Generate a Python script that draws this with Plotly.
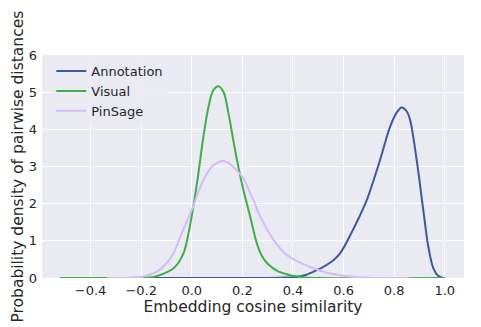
import plotly.graph_objects as go

# Annotation (blue)
ann_x = [-0.52, 0.2, 0.35, 0.415, 0.45, 0.494, 0.52, 0.56, 0.586, 0.63, 0.659, 0.692, 0.744, 0.784,
         0.81, 0.83, 0.85, 0.863, 0.889, 0.915, 0.935, 0.955, 0.975, 0.99, 1.0]
ann_y = [0, 0, 0.01, 0.03, 0.08, 0.21, 0.30, 0.48, 0.66, 1.2, 1.6, 2.1, 3.17, 4.07,
         4.45, 4.59, 4.48, 4.25, 3.17, 1.83, 0.84, 0.26, 0.05, 0.01, 0]

# Visual (green)
vis_x = [-0.52, -0.25, -0.2, -0.15, -0.106, -0.066, -0.033, -0.013, 0.006, 0.026, 0.046, 0.066,
         0.085, 0.105, 0.125, 0.145, 0.164, 0.184, 0.204, 0.229, 0.242, 0.255, 0.275, 0.302,
         0.341, 0.381, 0.42, 0.46, 0.5, 1.0]
vis_y = [0, 0, 0.005, 0.03, 0.13, 0.30, 0.66, 1.20, 1.92, 2.81, 3.80, 4.60,
         5.05, 5.16, 5.01, 4.43, 3.71, 2.99, 2.37, 1.70, 1.34, 0.98, 0.62, 0.37,
         0.18, 0.09, 0.04, 0.01, 0, 0]

# PinSage (purple)
pin_x = [-0.335, -0.25, -0.19, -0.138, -0.106, -0.073, -0.04, 0.0, 0.04, 0.079, 0.105, 0.125,
         0.145, 0.164, 0.204, 0.224, 0.247, 0.262, 0.295, 0.328, 0.368, 0.42, 0.46, 0.52,
         0.613, 0.7, 0.857]
pin_y = [0, 0.01, 0.04, 0.17, 0.35, 0.66, 1.20, 1.83, 2.55, 2.99, 3.12, 3.15,
         3.10, 2.99, 2.68, 2.39, 2.05, 1.78, 1.34, 0.98, 0.66, 0.44, 0.32, 0.17,
         0.05, 0.01, 0]

x_ticks = [-0.4, -0.2, 0.0, 0.2, 0.4, 0.6, 0.8, 1.0]
x_tick_labels = ["\u22120.4", "\u22120.2", "0.0", "0.2", "0.4", "0.6", "0.8", "1.0"]
y_ticks = [0, 1, 2, 3, 4, 5, 6]

FONT = "DejaVu Sans"
TXT = "#262626"

fig = go.Figure()
for name, xs, ys, col in [("Annotation", ann_x, ann_y, "#3A5A98"),
                          ("Visual", vis_x, vis_y, "#3DAF45"),
                          ("PinSage", pin_x, pin_y, "#D5BAFA")]:
    fig.add_trace(go.Scatter(x=xs, y=ys, mode="lines", name=name,
                             line=dict(color=col, width=2, shape="spline", smoothing=1.0)))

fig.update_layout(
    width=481, height=327,
    margin=dict(l=42, r=17, t=55, b=49),
    paper_bgcolor="white",
    plot_bgcolor="#EAEAF2",
    font=dict(family=FONT, color=TXT),
    showlegend=True,
    legend=dict(x=0.022, y=0.995, xanchor="left", yanchor="top",
                bgcolor="rgba(234,234,242,0.8)", borderwidth=0,
                font=dict(family=FONT, size=13, color=TXT)),
    xaxis=dict(range=[-0.592, 1.076], tickvals=x_ticks, ticktext=x_tick_labels,
               showgrid=True, gridcolor="white", gridwidth=1, zeroline=False,
               showline=False, ticks="", ticklabelstandoff=3,
               tickfont=dict(size=13, family=FONT, color=TXT),
               title=dict(text="Embedding cosine similarity", standoff=4,
                          font=dict(size=15.5, family=FONT, color=TXT))),
    yaxis=dict(range=[0, 6], tickvals=y_ticks,
               showgrid=True, gridcolor="white", gridwidth=1, zeroline=False,
               showline=False, ticks="", ticklabelstandoff=4,
               tickfont=dict(size=13, family=FONT, color=TXT)),
    annotations=[dict(text="Probability density of pairwise distances",
                      xref="paper", yref="paper", x=-0.0592, y=0.5,
                      xanchor="center", yanchor="middle", textangle=-90,
                      showarrow=False,
                      font=dict(size=15.5, family=FONT, color=TXT))],
)

fig.write_html("out.html")
